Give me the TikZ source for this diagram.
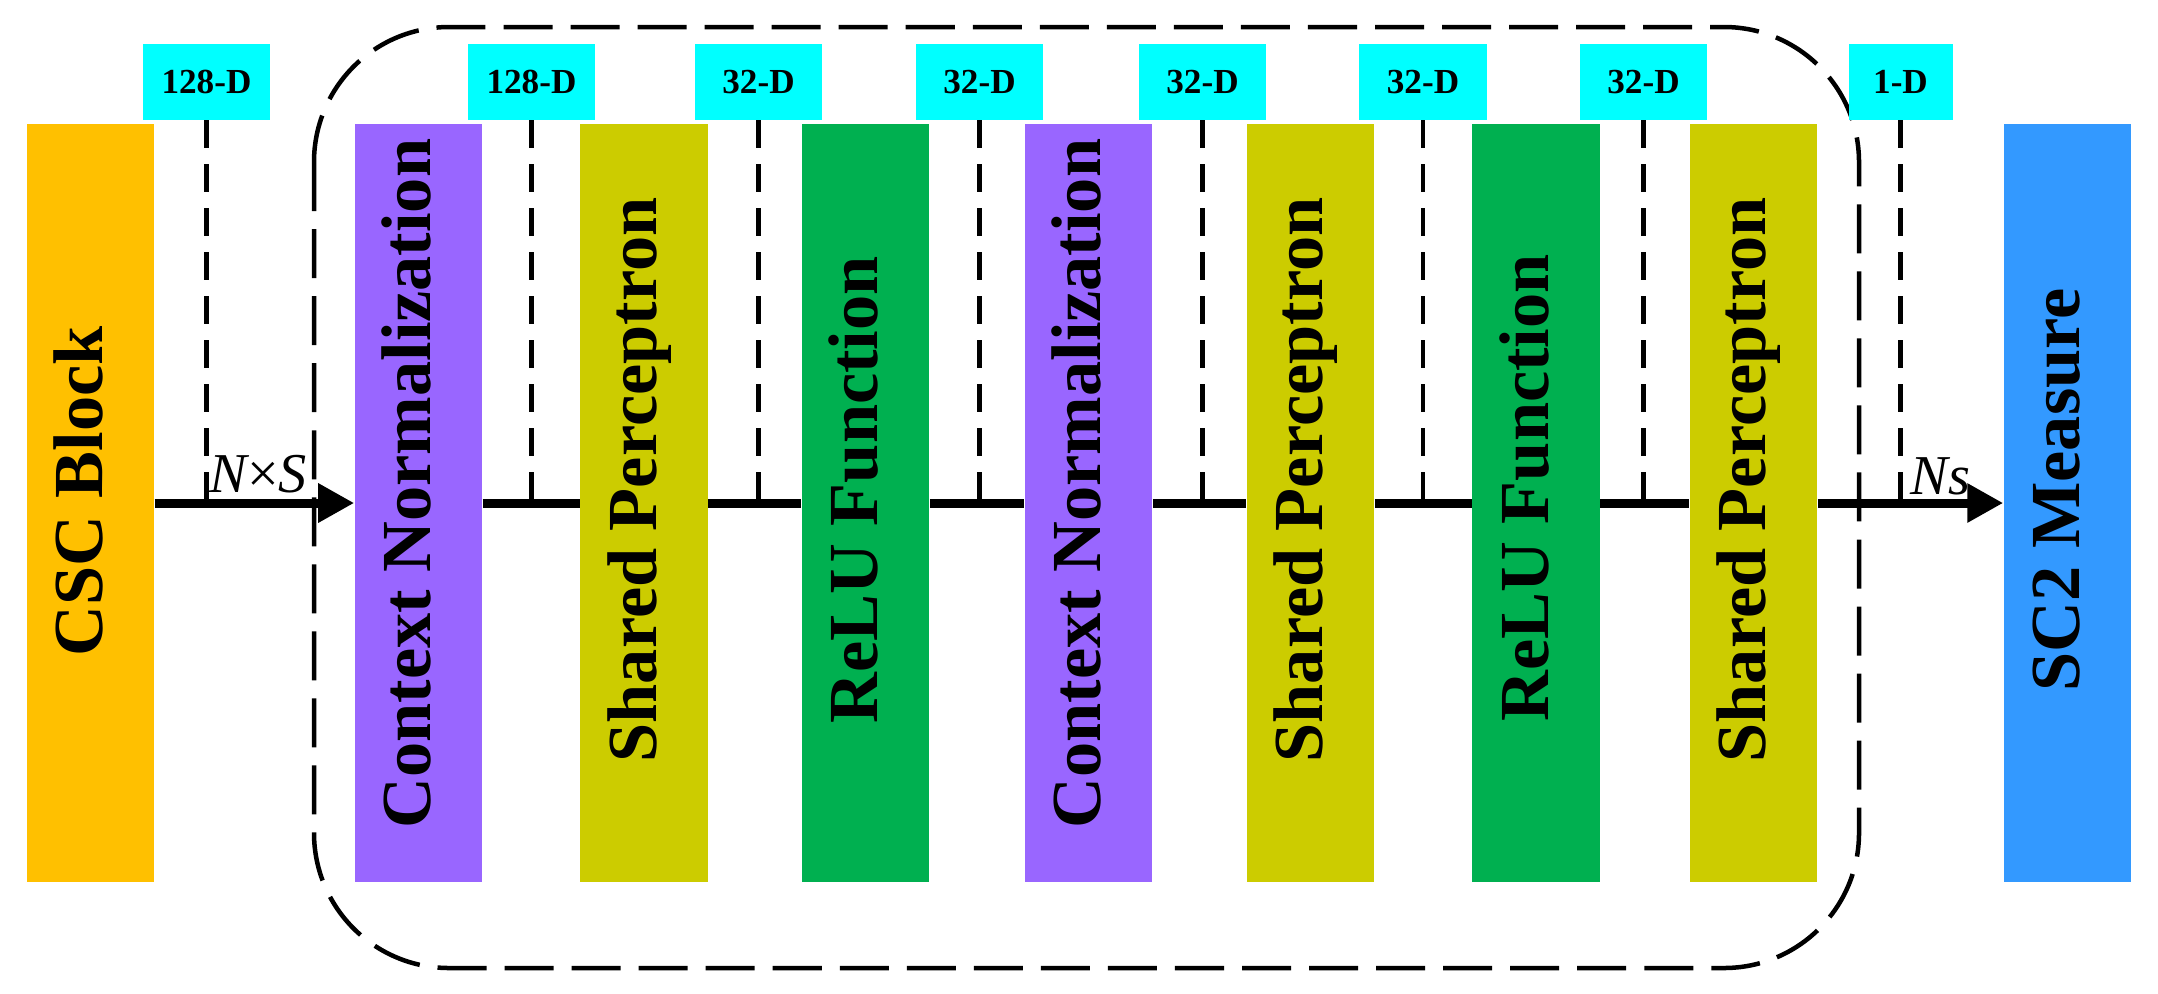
\documentclass[tikz,border=0pt]{standalone}
\usepackage{fontspec}
\setmainfont{Liberation Serif}
\usetikzlibrary{arrows.meta}
\definecolor{cscc}{HTML}{FFC000}
\definecolor{cnc}{HTML}{9966FF}
\definecolor{spc}{HTML}{CCCC00}
\definecolor{reluc}{HTML}{00B050}
\definecolor{scc}{HTML}{3399FF}
\definecolor{dimc}{HTML}{00FFFF}
\begin{document}
\begin{tikzpicture}[x=0.01cm,y=-0.01cm,
 bar/.style={draw=none,minimum width=1.27cm,minimum height=7.58cm,inner sep=0pt},
 bartxt/.style={rotate=90,anchor=west,inner sep=0pt,font=\fontsize{20pt}{24pt}\selectfont\bfseries,text height=15pt,text depth=8pt},
 dimbox/.style={fill=dimc,minimum width=1.27cm,minimum height=0.75cm,inner sep=0pt,font=\fontsize{10pt}{12pt}\selectfont\bfseries},
 dline/.style={line width=0.045cm,dash pattern=on 0.28cm off 0.16cm},
 mline/.style={line width=0.09cm},
 tipped/.style={-{Triangle[length=0.36cm,width=0.37cm]}},
 groupbox/.style={line width=0.045cm,dash pattern=on 0.49cm off 0.18cm,rounded corners=1.35cm},
 dimlab/.style={font=\fontsize{16pt}{19pt}\selectfont\itshape,inner sep=0pt,anchor=base west}
]
\path[use as bounding box] (0,0) rectangle (2158,993);
\coordinate (m) at (0,503);

% group box
\draw[groupbox] (314,27) rectangle (1859,968);

% bars
\node[bar,fill=cscc]  (csc) at (90.5,503) {};
\node[bar,fill=cnc]   (cn1) at (418.5,503) {};
\node[bar,fill=spc]   (sp1) at (644,503) {};
\node[bar,fill=reluc] (r1)  at (865.5,503) {};
\node[bar,fill=cnc]   (cn2) at (1088.5,503) {};
\node[bar,fill=spc]   (sp2) at (1310.5,503) {};
\node[bar,fill=reluc] (r2)  at (1536,503) {};
\node[bar,fill=spc]   (sp3) at (1753.5,503) {};
\node[bar,fill=scc]   (sc2) at (2067.5,503) {};

% bar texts
\node[bartxt] (csct) at (csc.center |- 0,657) {CSC Block};
\node[bartxt] (cn1t) at (cn1.center |- 0,829) {Context Normalization};
\node[bartxt] (sp1t) at (sp1.center |- 0,763) {Shared Perceptron};
\node[bartxt] (r1t)  at (r1.center |- 0,724) {ReLU Function};
\node[bartxt] (cn2t) at (cn2.center |- 0,829) {Context Normalization};
\node[bartxt] (sp2t) at (sp2.center |- 0,763) {Shared Perceptron};
\node[bartxt] (r2t)  at (r2.center |- 0,722) {ReLU Function};
\node[bartxt] (sp3t) at (sp3.center |- 0,763) {Shared Perceptron};
\node[bartxt] (sc2t) at (sc2.center |- 0,692) {SC2 Measure};

% dimension boxes
\node[dimbox] (d1) at (206.5,82) {128-D};
\node[dimbox] (d2) at (531.5,82) {128-D};
\node[dimbox] (d3) at (758.5,82) {32-D};
\node[dimbox] (d4) at (979.5,82) {32-D};
\node[dimbox] (d5) at (1202.5,82) {32-D};
\node[dimbox] (d6) at (1423,82) {32-D};
\node[dimbox] (d7) at (1643.5,82) {32-D};
\node[dimbox,minimum width=1.04cm] (d8) at (1900.5,82) {1-D};

% dashed droplines
\foreach \d in {d1,d2,d3,d4,d5,d6,d7,d8}
  \draw[dline] (\d.south) -- (\d.south |- m);

% main line
\draw[mline,tipped] (csc.east |- m) -- (cn1.west |- m);
\foreach \a/\b in {cn1/sp1,sp1/r1,r1/cn2,cn2/sp2,sp2/r2,r2/sp3}
  \draw[mline] (\a.east |- m) -- (\b.west |- m);
\draw[mline,tipped] (sp3.east |- m) -- (sc2.west |- m);

% labels
\node[dimlab] (nxs) at ([xshift=0.54cm,yshift=0.11cm]csc.east |- m) {N\upshape×\itshape S};
\node[dimlab] (ns) at ([xshift=0.92cm,yshift=0.09cm]sp3.east |- m) {Ns};
\end{tikzpicture}
\end{document}
